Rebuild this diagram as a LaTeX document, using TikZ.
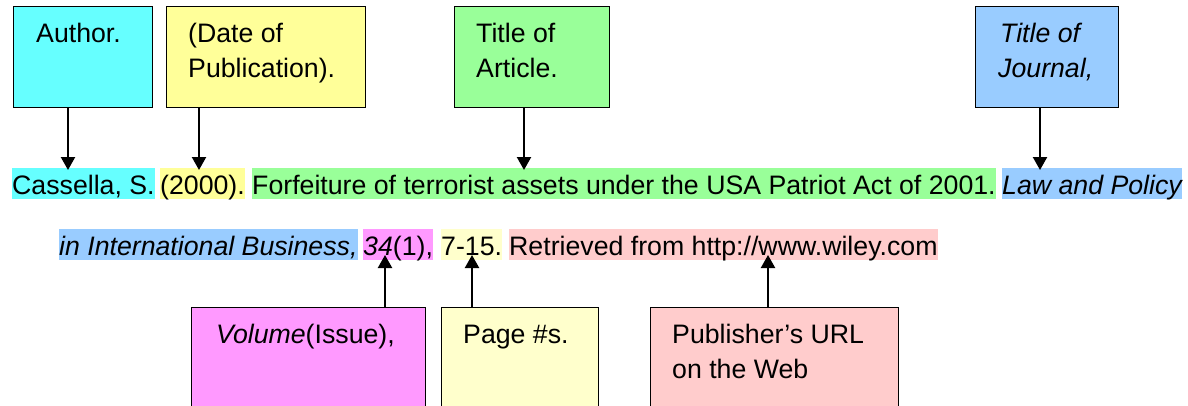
\documentclass[tikz,border=0pt]{standalone}
\usepackage{fontspec}
\setmainfont{Liberation Sans}
\usetikzlibrary{arrows.meta}
\definecolor{cyanH}{HTML}{66FFFF}
\definecolor{dateH}{HTML}{FFFF99}
\definecolor{greenH}{HTML}{99FF99}
\definecolor{blueH}{HTML}{99CCFF}
\definecolor{magH}{HTML}{FF99FF}
\definecolor{pageH}{HTML}{FFFFCC}
\definecolor{pinkH}{HTML}{FFCCCC}
\newcommand\myfs{\fontsize{26.7}{32}\selectfont}
\begin{document}
\begin{tikzpicture}[x=1pt,y=-1pt,
  box/.style={draw=black, line width=1.4pt, rectangle, inner sep=0pt, anchor=north west},
  lbl/.style={inner sep=0pt, anchor=base west, font=\myfs},
  seg/.style={inner sep=0pt, text height=26pt, text depth=5pt, anchor=base west, font=\myfs},
  arr/.style={line width=2.2pt, -{Triangle[width=14pt,length=13pt]}}]
\useasboundingbox (0,0) rectangle (1188,405);
\clip (0,0) rectangle (1188,405);

% top boxes
\node[box, fill=cyanH, minimum width=139pt, minimum height=101pt] (author) at (13,6) {};
\node[box, fill=dateH, minimum width=199pt, minimum height=101pt] (date) at (166,6) {};
\node[box, fill=greenH, minimum width=155pt, minimum height=101pt] (title) at (454,6) {};
\node[box, fill=blueH, minimum width=143pt, minimum height=101pt] (journal) at (975,6) {};

\node[lbl] (authorT) at (36,42) {Author.};
\node[lbl] (dateT1) at (188,42) {(Date of};
\node[lbl] (dateT2) at (188,77) {Publication).};
\node[lbl] (titleT1) at (476,42) {Title of};
\node[lbl] (titleT2) at (476,77) {Article.};
\node[lbl] (journalT1) at (1000,42) {\itshape Title of};
\node[lbl] (journalT2) at (998,77) {\itshape Journal,};

% reference line 1
\node[seg, fill=cyanH] (s1) at (12,194) {Cassella, S.};
\node[seg, fill=dateH] (s2) at (160,194) {(2000).};
\node[seg, fill=greenH] (s3) at (252,194) {Forfeiture of terrorist assets under the USA Patriot Act of 2001.};
\node[seg, fill=blueH] (s4) at (1002,194) {\itshape Law and Policy};

% reference line 2
\node[seg, fill=blueH] (t1) at (59,255) {\itshape in International Business,};
\node[seg, fill=magH] (t2) at (363,255) {\textit{34}(1),};
\node[seg, fill=pageH] (t3) at (441,255) {7-15.};
\node[seg, fill=pinkH] (t4) at (509,255) {Retrieved from http://www.wiley.com};

% bottom boxes
\node[box, fill=magH, minimum width=234pt, minimum height=120pt] (volume) at (191,307) {};
\node[box, fill=pageH, minimum width=157pt, minimum height=120pt] (page) at (441,307) {};
\node[box, fill=pinkH, minimum width=248pt, minimum height=120pt] (url) at (650,307) {};

\node[lbl] (volumeT) at (216,343) {\textit{Volume}(Issue),};
\node[lbl] (pageT) at (463,343) {Page \#s.};
\node[lbl] (urlT1) at (672,343) {Publisher’s URL};
\node[lbl] (urlT2) at (672,378) {on the Web};

% arrow end points
\coordinate (pA) at (68,170);
\coordinate (pD) at (199,170);
\coordinate (pT) at (524,170);
\coordinate (pJ) at (1040,170);
\coordinate (pV) at (385,255);
\coordinate (pP) at (472,255);
\coordinate (pU) at (768,255);

\draw[arr] (pA |- author.south) -- (pA);
\draw[arr] (pD |- date.south) -- (pD);
\draw[arr] (pT |- title.south) -- (pT);
\draw[arr] (pJ |- journal.south) -- (pJ);
\draw[arr] (pV |- volume.north) -- (pV);
\draw[arr] (pP |- page.north) -- (pP);
\draw[arr] (pU |- url.north) -- (pU);
\end{tikzpicture}
\end{document}
